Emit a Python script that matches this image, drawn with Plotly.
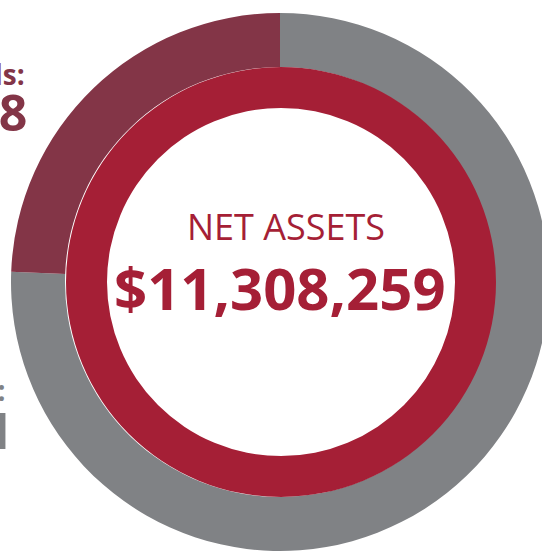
import plotly.graph_objects as go

# data
net_assets = 11308259
ring_labels = ["Unrestricted funds", "Restricted funds"]
ring_values = [8549041, 2759218]
ring_colors = ["#808285", "#833547"]

W, H = 556, 552

def fmt(v):
  return "$" + format(v, ",")

fig = go.Figure()

# outer ring: unrestricted (grey) then restricted (maroon), clockwise from 12 o'clock
cx, cy, r_out = 280, 282, 269
fig.add_trace(go.Pie(
  labels=ring_labels, values=ring_values, sort=False, direction="clockwise",
  rotation=0, hole=215 / 269, textinfo="none", hoverinfo="label+value",
  marker=dict(colors=ring_colors, line=dict(width=0)),
  domain=dict(x=[(cx - r_out) / W, (cx + r_out) / W], y=[1 - (cy + r_out) / H, 1 - (cy - r_out) / H]),
  showlegend=False,
))

# inner ring: net assets
r_in = 215
fig.add_trace(go.Pie(
  labels=["Net assets"], values=[net_assets], sort=False, hole=174 / 215,
  textinfo="none", hoverinfo="label+value",
  marker=dict(colors=["#A51F36"], line=dict(width=0)),
  domain=dict(x=[(cx + 1 - r_in) / W, (cx + 1 + r_in) / W], y=[1 - (cy + r_in) / H, 1 - (cy - r_in) / H]),
  showlegend=False,
))

# center text
fig.add_annotation(text="NET ASSETS", x=286 / W, y=1 - 227 / H, xref="paper", yref="paper",
  xanchor="center", yanchor="middle", showarrow=False,
  font=dict(family="Open Sans", size=36, color="#A51F36"))
fig.add_annotation(text="<b>" + fmt(net_assets) + "</b>", x=280 / W, y=1 - 287 / H, xref="paper", yref="paper",
  xanchor="center", yanchor="middle", showarrow=False,
  font=dict(family="Open Sans", size=58, color="#A51F36"))

# side labels (cut off at the left edge)
fig.add_annotation(text="<b>" + ring_labels[1] + ":</b>", x=27 / W, y=1 - 74 / H, xref="paper", yref="paper",
  xanchor="right", yanchor="middle", showarrow=False,
  font=dict(family="Open Sans", size=28, color=ring_colors[1]))
fig.add_annotation(text="<b>" + fmt(ring_values[1]) + "</b>", x=29 / W, y=1 - 112 / H, xref="paper", yref="paper",
  xanchor="right", yanchor="middle", showarrow=False,
  font=dict(family="Open Sans", size=50, color=ring_colors[1]))
fig.add_annotation(text="<b>" + ring_labels[0] + ":</b>", x=8 / W, y=1 - 390 / H, xref="paper", yref="paper",
  xanchor="right", yanchor="middle", showarrow=False,
  font=dict(family="Open Sans", size=28, color=ring_colors[0]))
fig.add_annotation(text="<b>" + fmt(ring_values[0]) + "</b>", x=15 / W, y=1 - 430 / H, xref="paper", yref="paper",
  xanchor="right", yanchor="middle", showarrow=False,
  font=dict(family="Open Sans", size=50, color=ring_colors[0]))

fig.update_layout(
  width=W, height=H, margin=dict(l=0, r=0, t=0, b=0),
  paper_bgcolor="white", plot_bgcolor="white",
)

fig.write_html("out.html", config={"displayModeBar": False},
  post_script="document.body.style.margin='0';document.body.style.overflow='hidden';")
